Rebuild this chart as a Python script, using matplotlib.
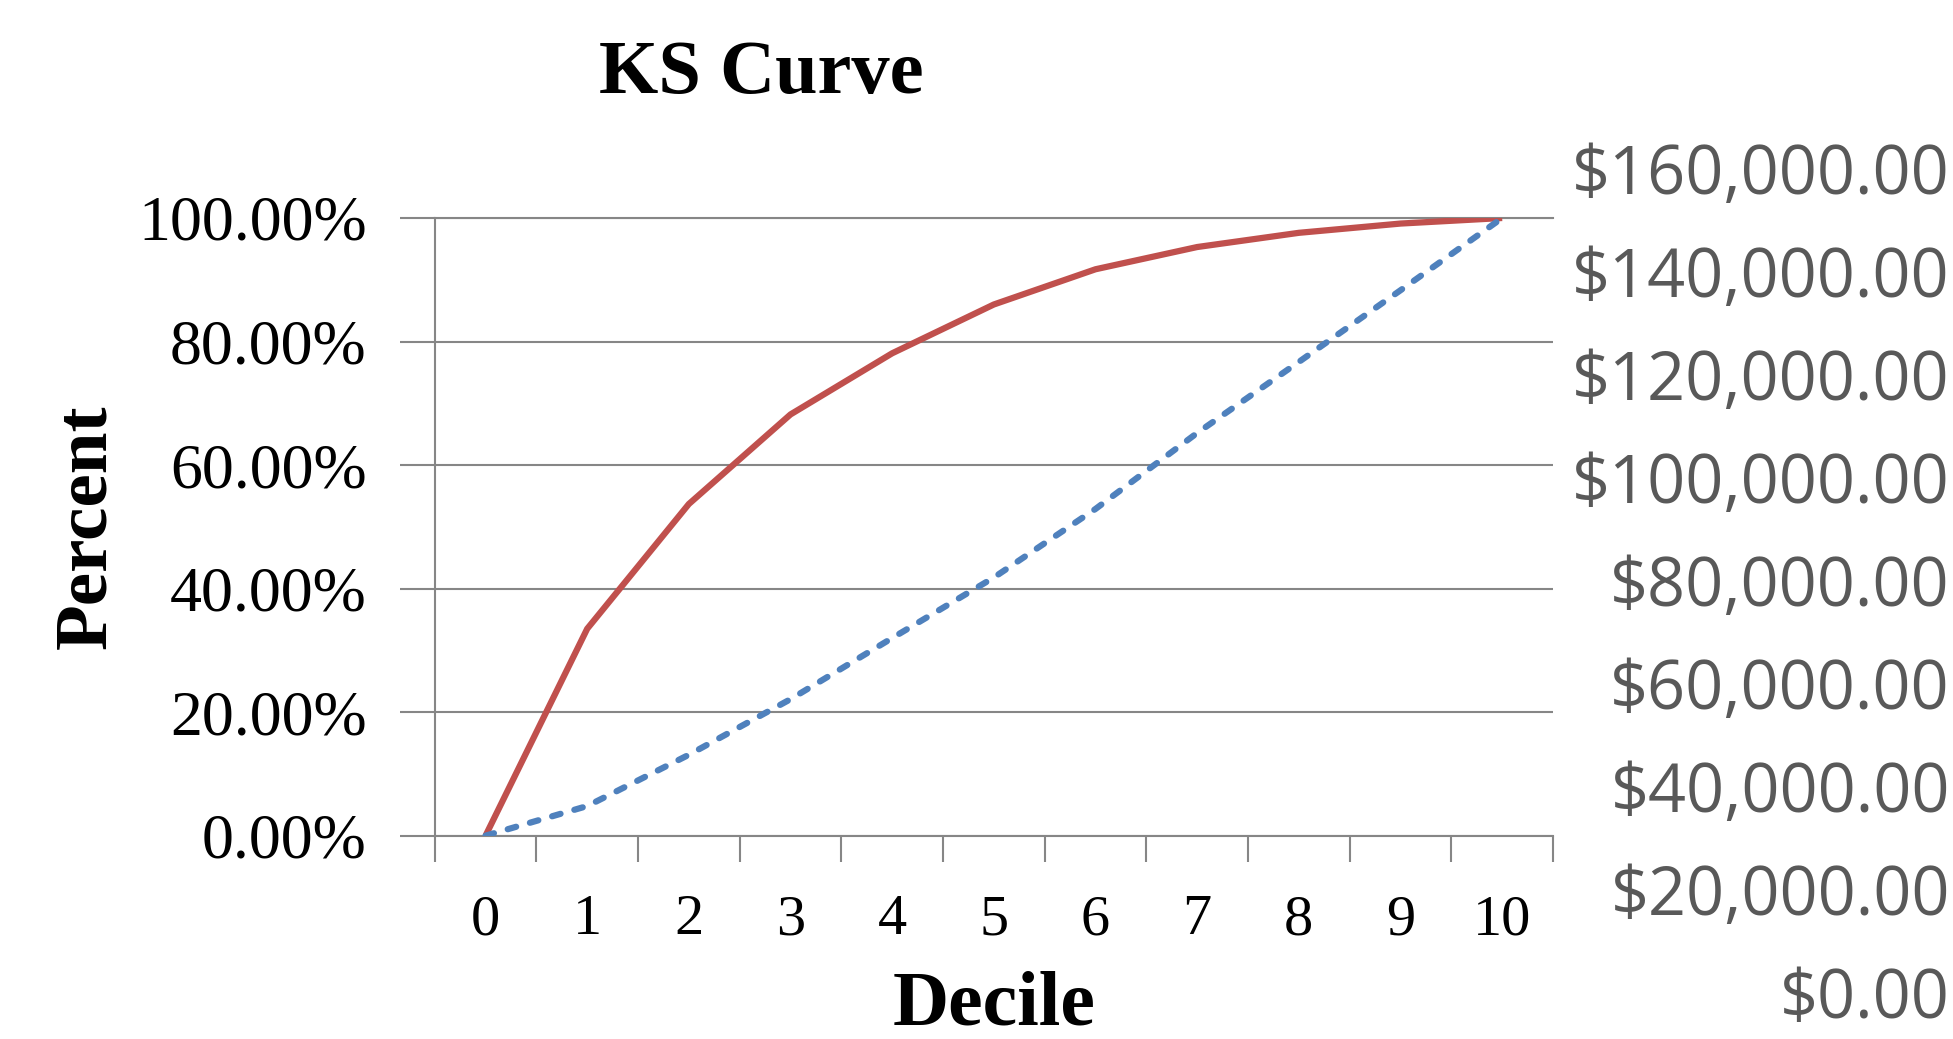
import matplotlib.pyplot as plt
import numpy as np
from matplotlib.ticker import FuncFormatter, FixedLocator

# KS curve data, cumulative share per decile
deciles = list(range(11))
cum_bad = [0.0, 33.5, 53.7, 68.2, 78.1, 86.0, 91.7, 95.3, 97.6, 99.1, 100.0]
cum_good = [0.0, 4.8, 13.1, 22.1, 32.0, 41.8, 52.9, 65.2, 76.7, 88.3, 100.0]
pct_ticks = [0, 20, 40, 60, 80, 100]
dollar_ticks = [0, 20000, 40000, 60000, 80000, 100000, 120000, 140000, 160000]

W, H = 1953, 1039
fig = plt.figure(figsize=(W / 100, H / 100), dpi=100)

grid_gray = '#868686'
serif = 'Liberation Serif'

# main axes, placed in pixel coordinates
left, right, top, bottom = 434.7, 1553, 218, 835.7
ax = fig.add_axes([left / W, 1 - bottom / H, (right - left) / W, (bottom - top) / H])

ax.plot(deciles, cum_bad, color='#C0504D', lw=4.5, solid_capstyle='butt',
        solid_joinstyle='miter', zorder=3)
ax.plot(deciles, cum_good, color='#4F81BD', lw=4.5, dashes=(1.4, 2.3),
        dash_capstyle='round', zorder=3)

ax.set_xlim(-0.5, 10.5)
ax.set_ylim(0, 100)

ax.set_yticks(pct_ticks)
ax.yaxis.set_major_formatter(FuncFormatter(lambda v, p: f'{v:.2f}%'))
ax.yaxis.grid(True, color=grid_gray, lw=1.5)
ax.set_axisbelow(True)

ax.set_xticks(deciles)
ax.set_xticklabels([str(d) for d in deciles])
ax.xaxis.set_minor_locator(FixedLocator(np.arange(-0.5, 11, 1)))

ax.tick_params(axis='y', direction='out', length=25, width=1.5, color=grid_gray,
               pad=24, labelsize=46)
ax.tick_params(axis='x', which='major', length=0, pad=42, labelsize=42)
ax.tick_params(axis='x', which='minor', direction='out', length=19, width=1.5,
               color=grid_gray)
for lbl in ax.get_xticklabels() + ax.get_yticklabels():
    lbl.set_family(serif)

ax.spines['right'].set_visible(False)
for s in ['left', 'bottom', 'top']:
    ax.spines[s].set_color(grid_gray)
    ax.spines[s].set_linewidth(1.5)

# secondary dollar axis, labels only
d_top, d_bot = 168, 992.7
ax2 = fig.add_axes([1950 / W, 1 - d_bot / H, 0.001, (d_bot - d_top) / H])
ax2.set_ylim(0, 160000)
ax2.set_yticks(dollar_ticks)
ax2.yaxis.set_major_formatter(FuncFormatter(lambda v, p: f'${v:,.2f}'))
ax2.tick_params(axis='y', length=0, pad=0, labelsize=48, labelcolor='#595959')
for lbl in ax2.get_yticklabels():
    lbl.set_family('Open Sans')
ax2.set_xticks([])
for s in ax2.spines.values():
    s.set_visible(False)
ax2.patch.set_visible(False)

# titles
fig.text(761 / W, 1 - 74 / H, 'KS Curve', family=serif, weight='bold',
         fontsize=55, ha='center', va='center')
fig.text(994 / W, 1 - 1006 / H, 'Decile', family=serif, weight='bold',
         fontsize=56, ha='center', va='center')
fig.text(87 / W, 1 - 527 / H, 'Percent', family=serif, weight='bold',
         fontsize=54, ha='center', va='center', rotation=90)

fig.savefig('out.png', dpi=100)
